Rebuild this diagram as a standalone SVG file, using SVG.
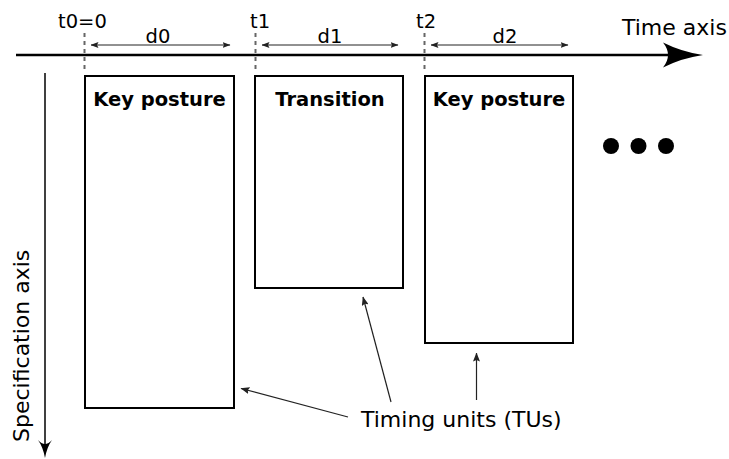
<svg xmlns="http://www.w3.org/2000/svg" width="729" height="459" viewBox="0 0 729 459">
<defs>
<style>
text{font-family:"DejaVu Sans","Liberation Sans",sans-serif;fill:#000}
.lbl{font-size:19.5px}
.big{font-size:22px}
.bold{font-size:19.5px;font-weight:bold}
.box{fill:#fff;stroke:#000;stroke-width:2}
.dash{stroke:#666;stroke-width:2;stroke-dasharray:4 4;fill:none}
.dim{stroke:#222;stroke-width:1;fill:none;marker-start:url(#sm);marker-end:url(#sm)}
.ptr{stroke:#222;stroke-width:1.2;fill:none;marker-end:url(#pm)}
</style>
<marker id="sm" viewBox="0 0 8 6" refX="7.5" refY="3" markerWidth="8" markerHeight="6" markerUnits="userSpaceOnUse" orient="auto-start-reverse">
<path d="M0,0 L8,3 L0,6 L1.5,3 Z" fill="#222"/>
</marker>
<marker id="pm" viewBox="0 0 9 7" refX="8.5" refY="3.5" markerWidth="9" markerHeight="7" markerUnits="userSpaceOnUse" orient="auto">
<path d="M0,0 L9,3.5 L0,7 L1.5,3.5 Z" fill="#222"/>
</marker>
</defs>
<rect width="729" height="459" fill="#fff"/>
<g id="axes">
<line x1="16" y1="55" x2="670" y2="55" stroke="#000" stroke-width="2.5"/>
<path d="M663,42.5 Q682,52 703,55 Q682,58 663,67.5 Q673,55 663,42.5 Z" fill="#000"/>
<text class="big" x="622" y="35">Time axis</text>
<line x1="45" y1="73" x2="45" y2="448" stroke="#000" stroke-width="1.5"/>
<path d="M38,440 Q43,447 45,458 Q47,447 52,440 Q45,448 38,440 Z" fill="#000"/>
<text class="big" transform="translate(28.5,442) rotate(-90)">Specification axis</text>
</g>
<g id="ticks">
<line class="dash" x1="84.5" y1="33" x2="84.5" y2="71"/>
<line class="dash" x1="255.5" y1="33" x2="255.5" y2="71"/>
<line class="dash" x1="424.5" y1="33" x2="424.5" y2="71"/>
<text class="lbl" x="58" y="28">t0=0</text>
<text class="lbl" x="250" y="28">t1</text>
<text class="lbl" x="416" y="28">t2</text>
</g>
<g id="durations">
<line class="dim" x1="91" y1="45" x2="230" y2="45"/>
<line class="dim" x1="262" y1="45" x2="398" y2="45"/>
<line class="dim" x1="431" y1="45" x2="568" y2="45"/>
<text class="lbl" x="158" y="43" text-anchor="middle">d0</text>
<text class="lbl" x="330" y="43" text-anchor="middle">d1</text>
<text class="lbl" x="505" y="43" text-anchor="middle">d2</text>
</g>
<g id="tu0">
<rect class="box" x="85" y="76" width="149" height="332"/>
<text class="bold" x="159.5" y="106" text-anchor="middle">Key posture</text>
</g>
<g id="tu1">
<rect class="box" x="255" y="76" width="148" height="212"/>
<text class="bold" x="330" y="106" text-anchor="middle">Transition</text>
</g>
<g id="tu2">
<rect class="box" x="425" y="76" width="148" height="267"/>
<text class="bold" x="499" y="106" text-anchor="middle">Key posture</text>
</g>
<g id="more">
<circle cx="611" cy="146" r="8" fill="#000"/>
<circle cx="638.5" cy="146" r="8" fill="#000"/>
<circle cx="666" cy="146" r="8" fill="#000"/>
</g>
<g id="tus-label">
<text class="big" x="361" y="427">Timing units (TUs)</text>
</g>
<g id="connectors">
<line class="ptr" x1="348" y1="417" x2="241" y2="388.5"/>
<line class="ptr" x1="391" y1="402" x2="363" y2="297"/>
<line class="ptr" x1="476.5" y1="400" x2="476.5" y2="353"/>
</g>
</svg>
